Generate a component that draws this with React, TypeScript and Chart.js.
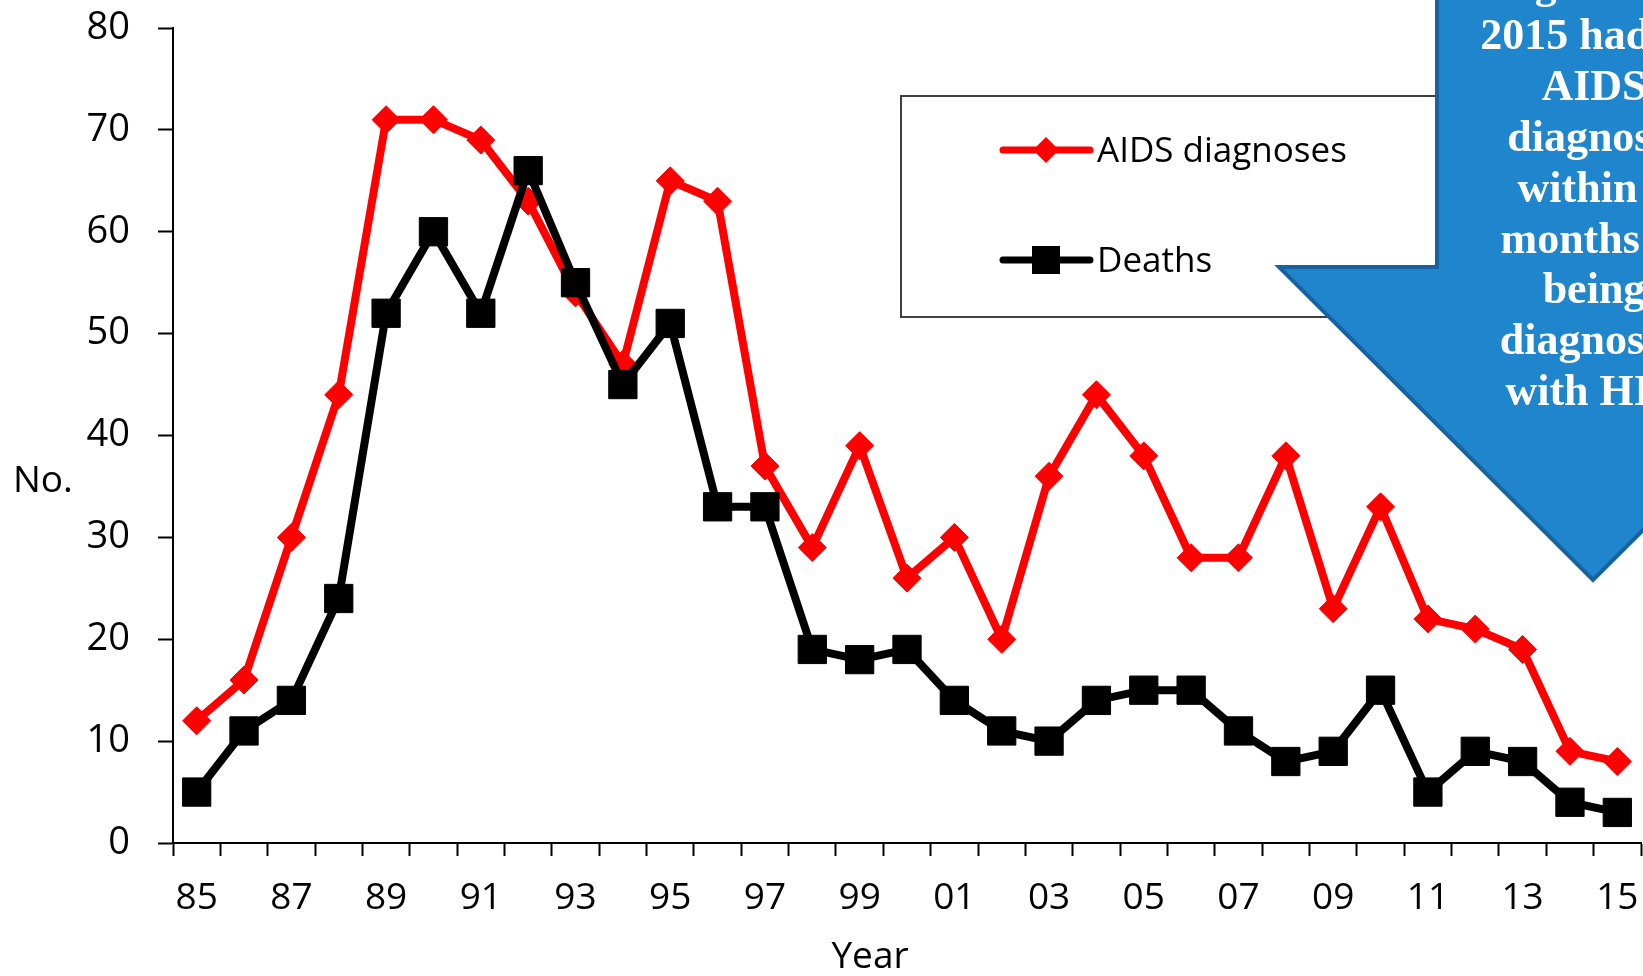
import React, { useEffect, useRef } from "react";
import { Chart, registerables } from "chart.js";

Chart.register(...registerables);

const years = [
  "85", "86", "87", "88", "89", "90", "91", "92", "93", "94",
  "95", "96", "97", "98", "99", "00", "01", "02", "03", "04",
  "05", "06", "07", "08", "09", "10", "11", "12", "13", "14", "15",
];
const aidsDiagnoses = [
  12, 16, 30, 44, 71, 71, 69, 63, 54, 47,
  65, 63, 37, 29, 39, 26, 30, 20, 36, 44,
  38, 28, 28, 38, 23, 33, 22, 21, 19, 9, 8,
];
const deaths = [
  5, 11, 14, 24, 52, 60, 52, 66, 55, 45,
  51, 33, 33, 19, 18, 19, 14, 11, 10, 14,
  15, 15, 11, 8, 9, 15, 5, 9, 8, 4, 3,
];
const seriesNames = ["AIDS diagnoses", "Deaths"];
const yAxisTitle = "No.";
const xAxisTitle = "Year";
const calloutLines = [
  "diagnosed in",
  "2015 had an",
  "AIDS",
  "diagnosis",
  "within 3",
  "months of",
  "being",
  "diagnosed",
  "with HIV",
];

const FONT = "'Open Sans', sans-serif";
const RED = "#ff0000";
const BLACK = "#000000";

const overlayPlugin = {
  id: "overlay",
  afterDraw(chart: any) {
    const ctx: CanvasRenderingContext2D = chart.ctx;
    ctx.save();

    // axis titles
    ctx.fillStyle = "#000";
    ctx.font = `37px ${FONT}`;
    ctx.textBaseline = "middle";
    ctx.textAlign = "left";
    ctx.fillText(yAxisTitle, 13, 481);
    ctx.textAlign = "center";
    ctx.fillText(xAxisTitle, 870, 957);

    // legend box
    ctx.fillStyle = "#fff";
    ctx.fillRect(901, 96, 560, 221);
    ctx.strokeStyle = "#404040";
    ctx.lineWidth = 2;
    ctx.strokeRect(901, 96, 560, 221);

    // legend entry 1: red line + diamond
    const ly1 = 150;
    ctx.strokeStyle = RED;
    ctx.lineWidth = 7;
    ctx.lineCap = "round";
    ctx.beginPath();
    ctx.moveTo(1003, ly1);
    ctx.lineTo(1090, ly1);
    ctx.stroke();
    ctx.fillStyle = RED;
    ctx.beginPath();
    ctx.moveTo(1046 - 13, ly1);
    ctx.lineTo(1046, ly1 - 13);
    ctx.lineTo(1046 + 13, ly1);
    ctx.lineTo(1046, ly1 + 13);
    ctx.closePath();
    ctx.fill();

    // legend entry 2: black line + square
    const ly2 = 260;
    ctx.strokeStyle = BLACK;
    ctx.beginPath();
    ctx.moveTo(1003, ly2);
    ctx.lineTo(1090, ly2);
    ctx.stroke();
    ctx.fillStyle = BLACK;
    ctx.fillRect(1046 - 14, ly2 - 14, 28, 28);

    ctx.fillStyle = "#000";
    ctx.font = `35px ${FONT}`;
    ctx.textAlign = "left";
    ctx.textBaseline = "middle";
    ctx.fillText(seriesNames[0], 1097, ly1 + 2);
    ctx.fillText(seriesNames[1], 1097, ly2 + 2);

    // callout arrow
    ctx.beginPath();
    ctx.moveTo(1437, -10);
    ctx.lineTo(1437, 267);
    ctx.lineTo(1279, 267);
    ctx.lineTo(1593, 580);
    ctx.lineTo(1907, 267);
    ctx.lineTo(1749, 267);
    ctx.lineTo(1749, -10);
    ctx.closePath();
    ctx.fillStyle = "#1F86CD";
    ctx.fill();
    ctx.strokeStyle = "#18639F";
    ctx.lineWidth = 4;
    ctx.lineJoin = "miter";
    ctx.stroke();

    ctx.fillStyle = "#ffffff";
    ctx.font = `bold 44px 'Liberation Serif', 'Times New Roman', serif`;
    ctx.textAlign = "center";
    ctx.textBaseline = "alphabetic";
    calloutLines.forEach((line, i) => {
      ctx.fillText(line, 1594, -2 + i * 50.9);
    });

    ctx.restore();
  },
};

export default function App() {
  const canvasRef = useRef<HTMLCanvasElement | null>(null);

  useEffect(() => {
    if (!canvasRef.current) return;
    const chart = new Chart(canvasRef.current, {
      type: "line",
      data: {
        labels: years,
        datasets: [
          {
            label: seriesNames[1],
            data: deaths,
            borderColor: BLACK,
            backgroundColor: BLACK,
            borderWidth: 8,
            pointStyle: "rect",
            pointRadius: 20,
            pointBorderWidth: 1,
            pointBackgroundColor: BLACK,
            pointBorderColor: BLACK,
            tension: 0,
            order: 0,
            clip: false,
          },
          {
            label: seriesNames[0],
            data: aidsDiagnoses,
            borderColor: RED,
            backgroundColor: RED,
            borderWidth: 8,
            pointStyle: "rectRot",
            pointRadius: 14,
            pointBorderWidth: 1,
            pointBackgroundColor: RED,
            pointBorderColor: RED,
            tension: 0,
            order: 1,
            clip: false,
          },
        ],
      },
      options: {
        animation: false,
        responsive: false,
        maintainAspectRatio: false,
        devicePixelRatio: 1,
        layout: { autoPadding: false, padding: { left: 0, right: 2, top: 28, bottom: 0 } },
        plugins: {
          legend: { display: false },
          tooltip: { enabled: false },
          title: { display: false },
        },
        scales: {
          x: {
            type: "category",
            offset: true,
            grid: {
              offset: true,
              drawOnChartArea: false,
              drawTicks: true,
              tickLength: 13,
              tickColor: "#000",
              tickWidth: 2,
              color: "#000",
            },
            border: { display: true, color: "#000", width: 2 },
            ticks: {
              autoSkip: false,
              maxRotation: 0,
              minRotation: 0,
              padding: 20,
              color: "#000",
              font: { family: FONT, size: 37 },
              callback: (_v: any, i: number) => (i % 2 === 0 ? years[i] : ""),
            },
            afterFit: (s: any) => {
              s.height = 133;
              s.paddingLeft = 0;
              s.paddingRight = 0;
            },
          },
          y: {
            min: 0,
            max: 80,
            grid: {
              drawOnChartArea: false,
              drawTicks: true,
              tickLength: 15,
              tickColor: "#000",
              tickWidth: 2,
              color: "#000",
            },
            border: { display: true, color: "#000", width: 2 },
            ticks: {
              stepSize: 10,
              padding: 28,
              color: "#000",
              font: { family: FONT, size: 38 },
            },
            afterFit: (s: any) => {
              s.width = 173;
              s.paddingTop = 0;
              s.paddingBottom = 0;
            },
          },
        },
      },
      plugins: [overlayPlugin],
    });
    return () => chart.destroy();
  }, []);

  return (
    <div style={{ position: "fixed", left: 0, top: 0, width: 1643, height: 976, background: "#fff" }}>
      <canvas ref={canvasRef} width={1643} height={976} style={{ display: "block" }} />
    </div>
  );
}
